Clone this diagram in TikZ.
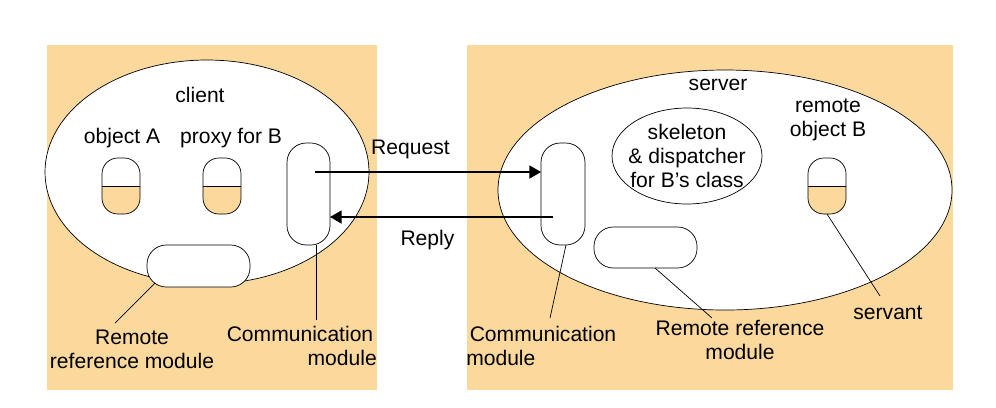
\documentclass[tikz,border=0pt]{standalone}
\usepackage{fontspec}
\setmainfont{Liberation Sans}
\usetikzlibrary{arrows}
\definecolor{tan}{HTML}{FBD89C}
\begin{document}
\begin{tikzpicture}[x=0.02cm,y=-0.02cm,font=\fontsize{12}{13.5}\selectfont]
\tikzstyle{caja}=[draw,fill=white,rounded corners=11pt]
\tikzstyle{etiqueta}=[align=center,inner sep=1pt]
\useasboundingbox (0,0) rectangle (996,407);

\fill[tan] (47,45) rectangle (377,390);
\fill[tan] (467,45) rectangle (953,390);
\draw[fill=white] (207,172) ellipse [x radius=162,y radius=112];
\draw[fill=white] (725,190) ellipse [x radius=227,y radius=120];

\node[etiqueta] (client) at (200,95) {client};
\node[etiqueta] (server) at (718,85) {server};
\node[etiqueta] (objA) at (122,138) {object A};
\node[etiqueta] (proxy) at (231,138) {proxy for B};
\node[etiqueta] (objB) at (828,120) {remote\\object B};

% capsulas
\foreach \x/\n in {121/capA,222/capP,827/capB}{
  \fill[tan,rounded corners=9] (\x-19,186) rectangle (\x+19,214);
  \fill[tan] (\x-19,186) rectangle (\x+19,200);
  \draw[rounded corners=9] (\x-19,158) rectangle (\x+19,214);
  \draw (\x-19,186) -- (\x+19,186);
  \coordinate (\n) at (\x,214);
}

\draw[caja] (287,143) rectangle (330,245);
\coordinate (comL) at (316,245);
\draw[caja] (147,245) rectangle (250,287);
\coordinate (refL) at (155,283);
\draw[caja] (541,143) rectangle (585,245);
\coordinate (comR) at (566,245);
\draw[caja] (594,227) rectangle (697,268);
\coordinate (refR) at (655,268);
\draw (687,156) ellipse [x radius=75,y radius=48];
\node[etiqueta] (skel) at (687,156) {skeleton\\\& dispatcher\\for B's class};

\coordinate (reqA) at (315,172);
\coordinate (reqB) at (541,172);
\coordinate (repA) at (553,217);
\coordinate (repB) at (330,217);
\draw[thick,-triangle 60] (reqA) -- node[above=4pt,xshift=-10] {Request} (reqB);
\draw[thick,-triangle 60] (repA) -- node[below=4pt,xshift=-8] {Reply} (repB);

\node[etiqueta] (lrefL) at (132,349) {Remote\\reference module};
\node[etiqueta] (lcomL) at (300,346) {Communication\\\hspace*{4em}module};
\node[etiqueta] (lcomR) at (543,346) {Communication\\module\hspace*{4em}};
\node[etiqueta] (lrefR) at (740,340) {Remote reference\\module};
\node[etiqueta] (lserv) at (888,313) {servant};

\draw (refL) -- (115,323);
\draw (comL) -- (316,320);
\draw (comR) -- (550,318);
\draw (refR) -- (712,318);
\draw (capB) -- (880,296);
\end{tikzpicture}
\end{document}
